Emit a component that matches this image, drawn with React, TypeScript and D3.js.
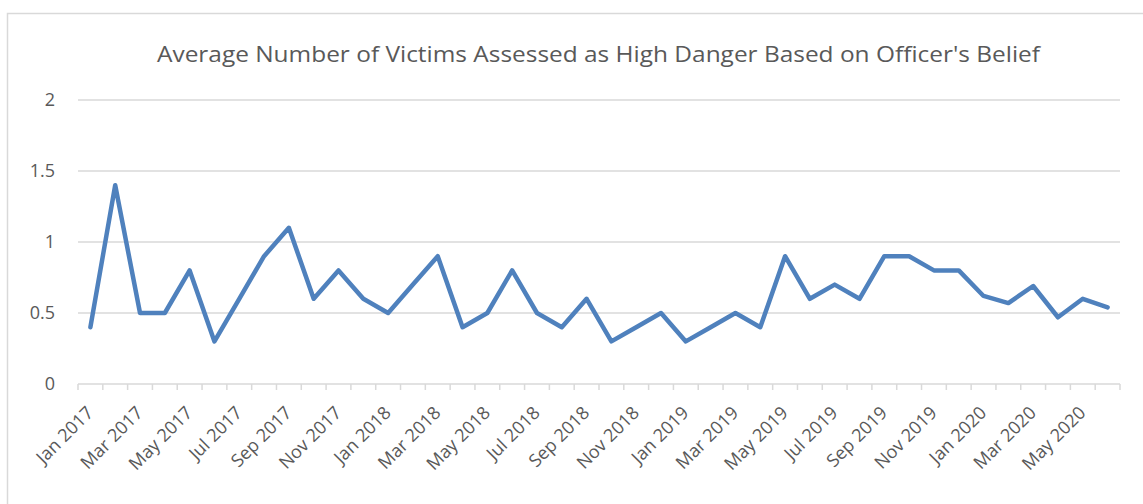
import React from "react";
import * as d3 from "d3";

const months = ["Jan","Feb","Mar","Apr","May","Jun","Jul","Aug","Sep","Oct","Nov","Dec"];
const categories: string[] = [];
for (let y = 2017; y <= 2020; y++) {
  for (let m = 0; m < 12; m++) {
    if (y === 2020 && m > 5) break;
    categories.push(`${months[m]} ${y}`);
  }
}
const values = [
  0.4, 1.4, 0.5, 0.5, 0.8, 0.3, 0.6, 0.9, 1.1, 0.6, 0.8, 0.6,
  0.5, 0.7, 0.9, 0.4, 0.5, 0.8, 0.5, 0.4, 0.6, 0.3, 0.4, 0.5,
  0.3, 0.4, 0.5, 0.4, 0.9, 0.6, 0.7, 0.6, 0.9, 0.9, 0.8, 0.8,
  0.62, 0.57, 0.69, 0.47, 0.6, 0.54,
];
const yTicks = [0, 0.5, 1, 1.5, 2];
const title = "Average Number of Victims Assessed as High Danger Based on Officer's Belief";

const W = 1143, H = 504;
const left = 78, right = 1120, top = 100, bottom = 384;
const FONT = "'Open Sans', 'Noto Sans', sans-serif";

export default function App() {
  const x = d3.scaleBand<string>().domain(categories).range([left, right]).padding(0);
  const y = d3.scaleLinear().domain([0, 2]).range([bottom, top]);
  const line = d3.line<number>()
    .x((_, i) => (x(categories[i]) as number) + x.bandwidth() / 2)
    .y((d) => y(d));
  const boundaries = d3.range(categories.length + 1).map((i) => left + i * x.bandwidth());
  return (
    <svg width={W} height={H} style={{ position: "absolute", left: 0, top: 0, background: "#fff" }}>
      <rect x={7.5} y={13.5} width={W + 20} height={H + 20} fill="#fff" stroke="#d9d9d9" strokeWidth={1.5} />
      <text x={(157 + 1040) / 2} y={62} textAnchor="middle" fontFamily={FONT} fontSize={21}
        fill="#595959" textLength={883} lengthAdjust="spacingAndGlyphs">{title}</text>
      {yTicks.map((t) => (
        <g key={t}>
          <line x1={left} x2={right} y1={y(t)} y2={y(t)} stroke="#d9d9d9" strokeWidth={1.5} />
          <text x={55} y={y(t)} dy="0.35em" textAnchor="end" fontFamily={FONT} fontSize={18} fill="#595959">{t}</text>
        </g>
      ))}
      {boundaries.map((bx, i) => (
        <line key={i} x1={bx} x2={bx} y1={bottom} y2={bottom + 6} stroke="#d9d9d9" strokeWidth={1.5} />
      ))}
      {categories.map((c, i) => i % 2 === 0 ? (
        <text key={c} transform={`translate(${(x(c) as number) + x.bandwidth() / 2 + 4},${bottom + 30}) rotate(-45)`}
          textAnchor="end" fontFamily={FONT} fontSize={18} fill="#595959">{c}</text>
      ) : null)}
      <path d={line(values) || ""} fill="none" stroke="#4f81bd" strokeWidth={4.5} strokeLinejoin="round" strokeLinecap="round" />
    </svg>
  );
}
